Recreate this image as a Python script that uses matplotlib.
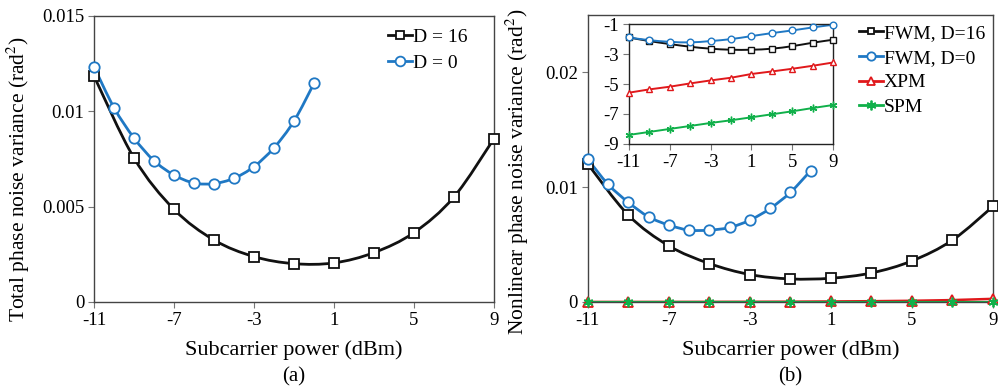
import numpy as np
import matplotlib
matplotlib.use("Agg")
import matplotlib.pyplot as plt
from matplotlib.path import Path
from matplotlib.patches import PathPatch
from matplotlib.lines import Line2D

plt.rcParams["font.family"] = ["Liberation Serif", "DejaVu Serif"]
plt.rcParams["mathtext.fontset"] = "stix"
plt.rcParams["axes.unicode_minus"] = False

# ---- data ----
# subcarrier power (dBm)
p_even = [-11, -9, -7, -5, -3, -1, 1, 3, 5, 7, 9]
p_d0 = [-11, -10, -9, -8, -7, -6, -5, -4, -3, -2, -1, 0]

# (a) total phase noise variance (rad^2)
total_d16 = [0.01185, 0.00755, 0.00486, 0.00325, 0.00238, 0.00201,
             0.00205, 0.00259, 0.00364, 0.00551, 0.00857]
total_d0 = [0.01234, 0.01019, 0.00860, 0.00741, 0.00666, 0.00624,
            0.00621, 0.00649, 0.00710, 0.00809, 0.00949, 0.01147]

# (b) nonlinear phase noise variance (rad^2)
fwm_d16 = [0.01202, 0.00757, 0.00489, 0.00335, 0.00239, 0.00201,
           0.00207, 0.00253, 0.00358, 0.00539, 0.00833]
fwm_d0 = [0.01243, 0.01025, 0.00868, 0.00742, 0.00670, 0.00626,
          0.00626, 0.00649, 0.00713, 0.00815, 0.00955, 0.01144]
xpm = [3e-6, 4e-6, 7e-6, 1.1e-5, 1.7e-5, 2.6e-5, 4.7e-5, 6.9e-5,
       1.05e-4, 1.66e-4, 2.75e-4]
spm = [4e-9, 6e-9, 1e-8, 1.6e-8, 2.5e-8, 3.8e-8, 6e-8, 9.5e-8,
       1.5e-7, 2.5e-7, 4e-7]

# inset: log10 of variance
ins_fwm_d16 = [-1.89, -2.13, -2.33, -2.51, -2.64, -2.71, -2.71, -2.64, -2.47, -2.24, -2.04]
ins_fwm_d0 = [-1.89, -2.07, -2.18, -2.22, -2.13, -2.00, -1.80, -1.60, -1.42, -1.22, -1.04]
ins_xpm = [-5.58, -5.36, -5.18, -4.96, -4.76, -4.58, -4.33, -4.16, -3.98, -3.78, -3.56]
ins_spm = [-8.40, -8.20, -8.00, -7.80, -7.60, -7.42, -7.22, -7.02, -6.82, -6.60, -6.40]

BLACK = "#111111"
BLUE = "#1f78c4"
RED = "#e0181b"
GREEN = "#10b04a"
STAR = (6, 2, 0)


def smooth_curve(ax, x, y, color, lw):
    """Excel-like smoothed line (Catmull-Rom bezier through the points)."""
    pts = np.column_stack([x, y]).astype(float)
    n = len(pts)
    verts = [pts[0]]
    codes = [Path.MOVETO]
    for i in range(n - 1):
        p0 = pts[max(i - 1, 0)]
        p1 = pts[i]
        p2 = pts[i + 1]
        p3 = pts[min(i + 2, n - 1)]
        verts += [p1 + (p2 - p0) / 6, p2 - (p3 - p1) / 6, p2]
        codes += [Path.CURVE4] * 3
    ax.add_patch(PathPatch(Path(verts, codes), fill=False, edgecolor=color,
                           lw=lw, zorder=2, capstyle="round"))


def series(ax, x, y, color, marker, ms, lw, mew=1.3, smooth=True):
    if smooth:
        smooth_curve(ax, x, y, color, lw)
    else:
        ax.plot(x, y, color=color, lw=lw, zorder=2)
    ax.plot(x, y, ls="none", marker=marker, ms=ms, mfc="white", mec=color,
            mew=mew, zorder=3, clip_on=False)


def style_axes(ax, fs=13.5):
    for s in ax.spines.values():
        s.set_color("#444444")
        s.set_linewidth(1.0)
    ax.tick_params(direction="out", length=4, width=0.8, color="#777777",
                   labelsize=fs, pad=3)


def handle(color, marker, ms, mew=1.3):
    return Line2D([], [], color=color, lw=2, marker=marker, ms=ms,
                  mfc="white", mec=color, mew=mew)


fig = plt.figure(figsize=(9.98, 3.89), dpi=100)

# ---- (a) ----
ax1 = fig.add_axes([0.0942, 0.2237, 0.4008, 0.7352])
series(ax1, p_even, total_d16, BLACK, "s", 6.5, 2.0)
series(ax1, p_d0, total_d0, BLUE, "o", 7.5, 2.0)
ax1.set_xlim(-11, 9)
ax1.set_ylim(0, 0.015)
ax1.set_xticks([-11, -7, -3, 1, 5, 9])
ax1.set_yticks([0, 0.005, 0.01, 0.015])
ax1.set_yticklabels(["0", "0.005", "0.01", "0.015"])
style_axes(ax1)
ax1.set_xlabel("Subcarrier power (dBm)", fontsize=16, labelpad=8)
ax1.set_ylabel("Total phase noise variance (rad$^2$)", fontsize=15.5)
ax1.yaxis.set_label_coords(-0.155, 0.43)
fig.text(0.294, 0.03, "(a)", ha="center", va="center", fontsize=15)
ax1.legend([handle(BLACK, "s", 6), handle(BLUE, "o", 7)], ["D = 16", "D = 0"],
           loc="upper left", bbox_to_anchor=(0.389, 0.928),
           bbox_transform=fig.transFigure, frameon=False, fontsize=14,
           handlelength=1.2, handletextpad=0.05, labelspacing=0.45,
           borderaxespad=0, borderpad=0)

# ---- (b) ----
ax2 = fig.add_axes([0.589, 0.2237, 0.406, 0.7377])
series(ax2, p_even, fwm_d16, BLACK, "s", 6.5, 2.0)
series(ax2, p_d0, fwm_d0, BLUE, "o", 7.5, 2.0)
series(ax2, p_even, xpm, RED, "^", 6.5, 1.8, smooth=False)
series(ax2, p_even, spm, GREEN, STAR, 7, 1.5, smooth=False)
ax2.set_xlim(-11, 9)
ax2.set_ylim(0, 0.025)
ax2.set_xticks([-11, -7, -3, 1, 5, 9])
ax2.set_yticks([0, 0.01, 0.02])
ax2.set_yticklabels(["0", "0.01", "0.02"])
style_axes(ax2)
ax2.set_xlabel("Subcarrier power (dBm)", fontsize=16, labelpad=8)
ax2.set_ylabel("Nonlinear phase noise variance (rad$^2$)", fontsize=15.5)
ax2.yaxis.set_label_coords(-0.141, 0.455)
fig.text(0.792, 0.03, "(b)", ha="center", va="center", fontsize=15)
ax2.legend([handle(BLACK, "s", 5), handle(BLUE, "o", 6),
            handle(RED, "^", 6), handle(GREEN, STAR, 7)],
           ["FWM, D=16", "FWM, D=0", "XPM", "SPM"],
           loc="upper left", bbox_to_anchor=(0.861, 0.937),
           bbox_transform=fig.transFigure, frameon=False, fontsize=14,
           handlelength=1.2, handletextpad=0.05, labelspacing=0.36,
           borderaxespad=0, borderpad=0)

# inset (log10 scale values)
ax3 = fig.add_axes([0.630, 0.630, 0.205, 0.308])
series(ax3, p_even, ins_fwm_d16, BLACK, "s", 3.8, 1.4, mew=1.0)
series(ax3, p_even, ins_fwm_d0, BLUE, "o", 4.8, 1.4, mew=1.0)
series(ax3, p_even, ins_xpm, RED, "^", 4.8, 1.4, mew=1.0, smooth=False)
series(ax3, p_even, ins_spm, GREEN, STAR, 5.5, 1.4, mew=1.0, smooth=False)
ax3.set_xlim(-11, 9)
ax3.set_ylim(-9, -1)
ax3.set_xticks([-11, -7, -3, 1, 5, 9])
ax3.set_yticks([-9, -7, -5, -3, -1])
style_axes(ax3)
for s in ax3.spines.values():
    s.set_color("#222222")
ax3.patch.set_facecolor("white")

fig.savefig("out.png", dpi=100)
